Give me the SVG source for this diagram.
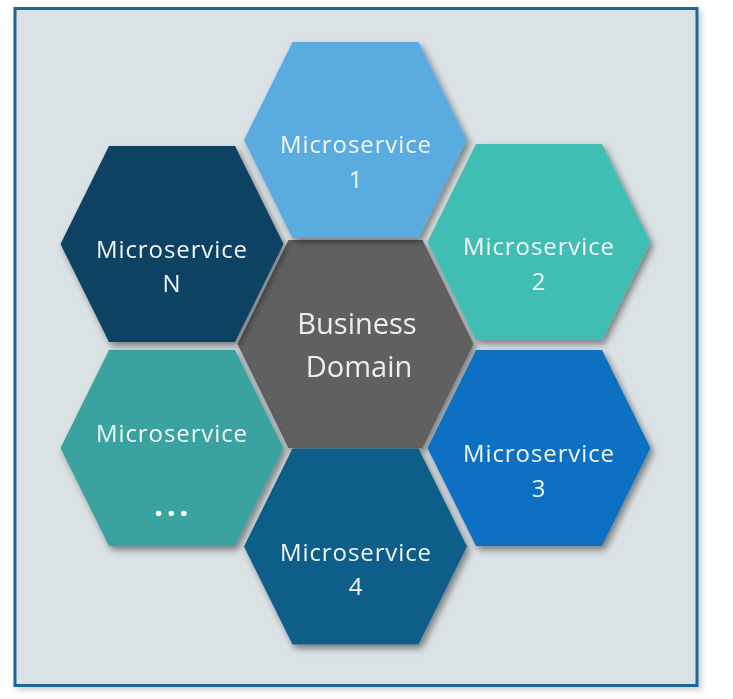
<svg xmlns="http://www.w3.org/2000/svg" xmlns:xlink="http://www.w3.org/1999/xlink" width="733" height="699" viewBox="0 0 733 699">
  <style>
    .lbl { font-family: "Open Sans", "Noto Sans", "DejaVu Sans", sans-serif; font-size: 24px; fill: #f3f5f6; text-anchor: middle; letter-spacing: 0.9px; }
    .big { font-family: "Open Sans", "Noto Sans", "DejaVu Sans", sans-serif; font-size: 29px; fill: #eeeeee; text-anchor: middle; }
    .dots { font-family: "Open Sans", "Noto Sans", "DejaVu Sans", sans-serif; font-size: 32px; font-weight: bold; fill: #ffffff; text-anchor: middle; letter-spacing: 3.5px; }
  </style>
  <defs>
    <filter id="sh" x="-20%" y="-20%" width="150%" height="150%">
      <feDropShadow dx="3" dy="4" stdDeviation="3.5" flood-color="#000000" flood-opacity="0.45"/>
    </filter>
    <filter id="frameSh" x="-5%" y="-5%" width="110%" height="110%">
      <feDropShadow dx="3" dy="3" stdDeviation="3" flood-color="#000000" flood-opacity="0.2"/>
    </filter>
    <polygon id="hex" points="-111.5,0 -63,-98 63,-98 111.5,0 63,98 -63,98"/>
    <polygon id="hexBig" points="-118,0 -67,-104 67,-104 118,0 67,104 -67,104"/>
  </defs>

  <rect id="frame" x="15" y="8.5" width="682" height="677" fill="#dbe2e5" stroke="#1a6895" stroke-width="3" filter="url(#frameSh)"/>

  <g id="business-domain" filter="url(#sh)">
    <use xlink:href="#hexBig" x="355.5" y="344" fill="#606060"/>
    <text class="big" x="357" y="334">Business</text>
    <text class="big" x="359" y="377">Domain</text>
  </g>

  <g id="microservice-1" filter="url(#sh)">
    <use xlink:href="#hex" x="355.5" y="140" fill="#5aabe0"/>
    <text class="lbl" x="356" y="153">Microservice</text>
    <text class="lbl" x="356" y="188">1</text>
  </g>

  <g id="microservice-2" filter="url(#sh)">
    <use xlink:href="#hex" x="539" y="242" fill="#40beb4"/>
    <text class="lbl" x="539" y="255">Microservice</text>
    <text class="lbl" x="539" y="290">2</text>
  </g>

  <g id="microservice-3" filter="url(#sh)">
    <use xlink:href="#hex" x="539" y="448" fill="#0b70c3"/>
    <text class="lbl" x="539" y="462">Microservice</text>
    <text class="lbl" x="539" y="497">3</text>
  </g>

  <g id="microservice-4" filter="url(#sh)">
    <use xlink:href="#hex" x="355.5" y="546.5" fill="#0f5e8a"/>
    <text class="lbl" x="356" y="561">Microservice</text>
    <text class="lbl" x="356" y="595">4</text>
  </g>

  <g id="microservice-etc" filter="url(#sh)">
    <use xlink:href="#hex" x="172" y="448" fill="#3aa39f"/>
    <text class="lbl" x="172" y="442">Microservice</text>
    <text class="dots" x="173" y="516">...</text>
  </g>

  <g id="microservice-n" filter="url(#sh)">
    <use xlink:href="#hex" x="172" y="244" fill="#0b4262"/>
    <text class="lbl" x="172" y="258">Microservice</text>
    <text class="lbl" x="172" y="292">N</text>
  </g>
</svg>
